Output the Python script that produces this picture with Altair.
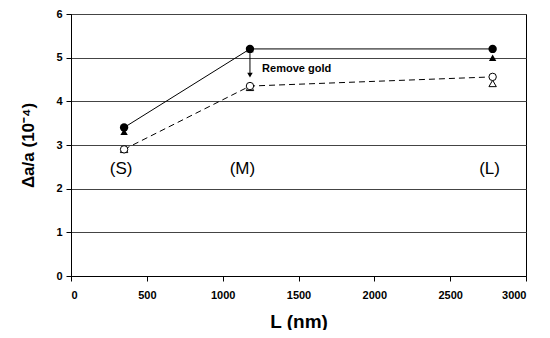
import altair as alt
import pandas as pd

# Data
lengths = [350, 1180, 2780]
filled_circle = [3.4, 5.2, 5.2]
filled_triangle = [3.3, 5.2, 5.0]
open_circle = [2.9, 4.35, 4.56]
open_triangle = [2.9, 4.32, 4.41]

size_labels = ["(S)", "(M)", "(L)"]
size_label_x = [330, 1130, 2760]
size_label_y = [2.45, 2.45, 2.45]

arrow_x = [1180]
arrow_top = [5.2]
arrow_bottom = [4.6]
note_text = ["Remove gold"]
note_x = [1260]
note_y = [4.75]

FONT = "Liberation Sans"

x_scale = alt.Scale(domain=[0, 3000], nice=False)
y_scale = alt.Scale(domain=[0, 6], nice=False)

x_enc = alt.X("L:Q", scale=x_scale,
              axis=alt.Axis(title="L (nm)", values=[0, 500, 1000, 1500, 2000, 2500, 3000],
                            grid=False, format="d"))
y_enc = alt.Y("v:Q", scale=y_scale,
              axis=alt.Axis(title="Δa/a (10⁻⁴)", values=[0, 1, 2, 3, 4, 5, 6], grid=True))

def df(vals):
    return pd.DataFrame({"L": lengths, "v": vals})

solid = alt.Chart(df(filled_circle)).mark_line(color="black", strokeWidth=1).encode(x=x_enc, y=y_enc)
dashed = alt.Chart(df(open_circle)).mark_line(color="black", strokeWidth=1, strokeDash=[6, 4]).encode(x=x_enc, y=y_enc)

ftri = alt.Chart(df(filled_triangle)).mark_point(shape="triangle-up", filled=True, color="black", size=55, opacity=1).encode(x=x_enc, y=y_enc)
fcirc = alt.Chart(df(filled_circle)).mark_point(shape="circle", filled=True, color="black", size=70, opacity=1).encode(x=x_enc, y=y_enc)
otri = alt.Chart(df(open_triangle)).mark_point(shape="triangle-up", filled=True, fill="white", stroke="black", strokeWidth=1, size=55, opacity=1).encode(x=x_enc, y=y_enc)
ocirc = alt.Chart(df(open_circle)).mark_point(shape="circle", filled=True, fill="white", stroke="black", strokeWidth=1, size=55, opacity=1).encode(x=x_enc, y=y_enc)

arrow_df = pd.DataFrame({"L": arrow_x, "v": arrow_top, "v2": arrow_bottom})
arrow_line = alt.Chart(arrow_df).mark_rule(color="black", strokeWidth=1).encode(
    x="L:Q", y="v:Q", y2="v2:Q")
arrow_head = alt.Chart(arrow_df).mark_point(shape="triangle-down", filled=True, color="black", size=30, opacity=1).encode(
    x="L:Q", y="v2:Q")

note_df = pd.DataFrame({"L": note_x, "v": note_y, "t": note_text})
note = alt.Chart(note_df).mark_text(font=FONT, fontSize=11, fontWeight="bold", align="left", baseline="middle", color="black").encode(
    x="L:Q", y="v:Q", text="t:N")

lab_df = pd.DataFrame({"L": size_label_x, "v": size_label_y, "t": size_labels})
labs = alt.Chart(lab_df).mark_text(font=FONT, fontSize=17, align="center", baseline="middle", color="black").encode(
    x="L:Q", y="v:Q", text="t:N")

chart = alt.layer(solid, dashed, ftri, fcirc, otri, ocirc, arrow_line, arrow_head, note, labs).properties(
    width=455, height=262,
    background="white",
    autosize=alt.AutoSizeParams(type="none"),
    padding={"left": 63, "top": 6, "right": 16, "bottom": 54},
).configure_view(
    stroke="black", strokeWidth=1
).configure_axis(
    labelFont=FONT, labelFontSize=11, labelFontWeight="bold", labelColor="black",
    titleFont=FONT, titleFontWeight="bold", titleColor="black",
    domainColor="black", tickColor="black", tickSize=5,
    gridColor="#444444", gridWidth=1,
).configure_axisX(
    labelPadding=8, titleFontSize=19, titlePadding=12,
).configure_axisY(
    labelPadding=4, titleFontSize=17, titlePadding=18,
)

chart.save("out.html", embed_options={"renderer": "svg", "actions": False})
